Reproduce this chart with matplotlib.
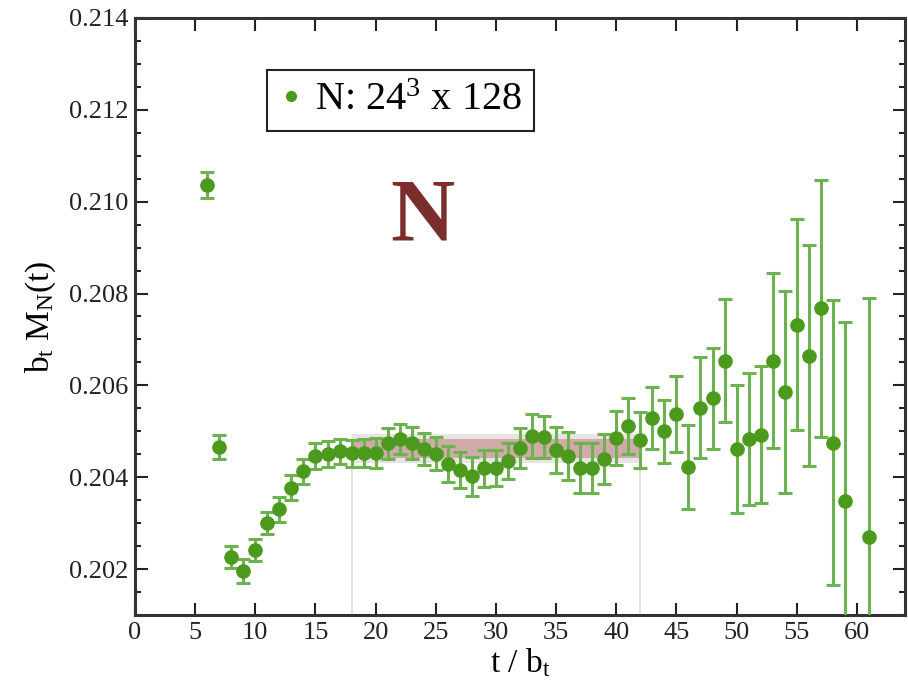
import numpy as np
import matplotlib
matplotlib.use("Agg")
from matplotlib import pyplot as plt
from matplotlib.patches import Rectangle
from matplotlib.lines import Line2D
from matplotlib.ticker import MultipleLocator, FormatStrFormatter

plt.rcParams["font.family"] = ["Liberation Serif", "DejaVu Serif"]
plt.rcParams["mathtext.fontset"] = "custom"
plt.rcParams["mathtext.rm"] = "Liberation Serif"
plt.rcParams["mathtext.it"] = "Liberation Serif:italic"

# effective mass of the nucleon vs time slice
t_slice = [6, 7, 8, 9, 10, 11, 12, 13, 14, 15, 16, 17, 18, 19, 20, 21, 22, 23,
           24, 25, 26, 27, 28, 29, 30, 31, 32, 33, 34, 35, 36, 37, 38, 39, 40,
           41, 42, 43, 44, 45, 46, 47, 48, 49, 50, 51, 52, 53, 54, 55, 56, 57,
           58, 59, 61]
mass = [0.21036, 0.20465, 0.20226, 0.20196, 0.20241, 0.20301, 0.20330,
        0.20377, 0.20413, 0.20446, 0.20451, 0.20456, 0.20452, 0.20453,
        0.20453, 0.20474, 0.20483, 0.20475, 0.20462, 0.20451, 0.20428,
        0.20415, 0.20402, 0.20419, 0.20420, 0.20436, 0.20464, 0.20489,
        0.20487, 0.20460, 0.20446, 0.20420, 0.20420, 0.20440, 0.20485,
        0.20511, 0.20480, 0.20529, 0.20500, 0.20538, 0.20422, 0.20551,
        0.20572, 0.20654, 0.20462, 0.20483, 0.20493, 0.20654, 0.20585,
        0.20732, 0.20665, 0.20768, 0.20475, 0.20348, 0.20270]
mass_err = [0.00028, 0.00026, 0.00024, 0.00026, 0.00024, 0.00024, 0.00027,
            0.00027, 0.00027, 0.00028, 0.00028, 0.00027, 0.00030, 0.00030,
            0.00032, 0.00034, 0.00033, 0.00035, 0.00035, 0.00036, 0.00039,
            0.00039, 0.00043, 0.00041, 0.00039, 0.00039, 0.00043, 0.00048,
            0.00046, 0.00050, 0.00052, 0.00054, 0.00054, 0.00054, 0.00059,
            0.00061, 0.00061, 0.00067, 0.00068, 0.00083, 0.00092, 0.00110,
            0.00110, 0.00134, 0.00139, 0.00143, 0.00150, 0.00190, 0.00220,
            0.00230, 0.00240, 0.00280, 0.00310, 0.00390, 0.00520]

# plateau fit
fit_range = (18, 42)
fit_value = 0.20463
fit_err = 0.00021
fit_halo = 0.00031

green = "#4b9a1e"
bar_green = "#6cb350"

fig = plt.figure(figsize=(9.08, 6.8), dpi=100)
ax = fig.add_axes([0.1487, 0.0956, 0.848, 0.878])

# fit band with soft grey edge
t0, t1 = fit_range
ax.add_patch(Rectangle((t0, fit_value - fit_halo), t1 - t0, 2 * fit_halo,
                       facecolor="#e8e4e4", edgecolor="none", zorder=1))
ax.add_patch(Rectangle((t0, fit_value - fit_err), t1 - t0, 2 * fit_err,
                       facecolor="#d0a9a9", edgecolor="none", zorder=1.1))
for tv in fit_range:
    ax.plot([tv, tv], [0.201, fit_value - fit_halo], color="#dcdcdc",
            lw=1.2, zorder=0.5)

ax.errorbar(t_slice, mass, yerr=mass_err, fmt="o", color=green, ms=9.5,
            ecolor=bar_green, elinewidth=2.2, capsize=5, capthick=2.2,
            zorder=3)

ax.text(23.85, 0.20965, "N", fontsize=64, fontweight="bold",
        color="#7a2d2a", ha="center", va="center")

# legend shows just the marker
handle = Line2D([], [], ls="none", marker="o", ms=7, color=green)
leg = ax.legend([handle], [r"N: 24$^3$ x 128"], loc="upper left",
                bbox_to_anchor=(0.171, 0.913), borderaxespad=0, fontsize=29,
                handlelength=0.6, handletextpad=0.3, borderpad=0.3,
                fancybox=False, framealpha=1)
leg.get_frame().set_edgecolor("#222222")
leg.get_frame().set_linewidth(1.5)

ax.set_xlim(0, 64)
ax.set_ylim(0.201, 0.214)
ax.xaxis.set_major_locator(MultipleLocator(5))
ax.yaxis.set_major_locator(MultipleLocator(0.002))
ax.yaxis.set_minor_locator(MultipleLocator(0.0005))
ax.yaxis.set_major_formatter(FormatStrFormatter("%.3f"))
ax.tick_params(which="both", direction="in", top=True, right=True,
               width=1.5, colors="#222222", labelsize=19, pad=5)
ax.tick_params(which="major", length=9)
ax.tick_params(which="minor", length=4.5)
for sp in ax.spines.values():
    sp.set_linewidth(2.2)
    sp.set_color("#333333")

ax.set_xlabel(r"t / b$_\mathrm{t}$", fontsize=24)
ax.set_ylabel(r"b$_\mathrm{t}$ M$_\mathrm{N}$(t)", fontsize=24)
ax.xaxis.set_label_coords(0.5, -0.052)
ax.yaxis.set_label_coords(-0.10, 0.5)

fig.savefig("out.png", dpi=100)
